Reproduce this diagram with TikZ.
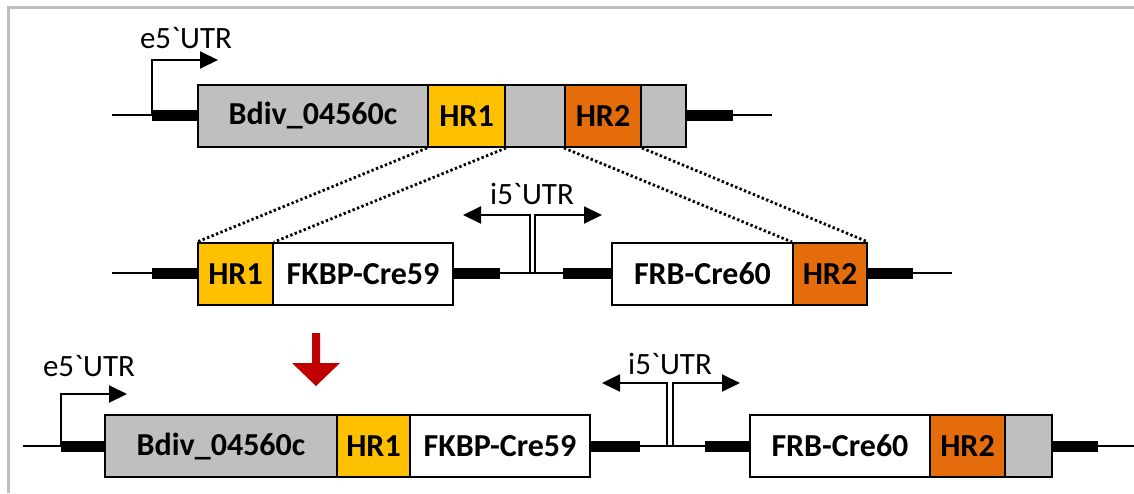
\documentclass[tikz,border=0pt]{standalone}
\usepackage{fontspec}
\setmainfont{Carlito}
\usetikzlibrary{arrows.meta}
\definecolor{gfill}{RGB}{191,191,191}
\definecolor{hryel}{RGB}{255,192,0}
\definecolor{hror}{RGB}{228,108,10}
\definecolor{redarr}{RGB}{192,0,0}
\definecolor{framegray}{RGB}{190,190,190}
\tikzset{
 gene/.style={draw=black, line width=2pt, minimum height=62pt, inner sep=0pt, font=\fontsize{32}{34}\selectfont\bfseries},
 grayseg/.style={gene, fill=gfill},
 yelseg/.style={gene, fill=hryel},
 orseg/.style={gene, fill=hror},
 whseg/.style={gene, fill=white},
 thinln/.style={line width=1.6pt},
 thickbar/.style={line width=11pt},
 promo/.style={line width=2pt, -{Triangle[length=18pt,width=17pt]}},
 lbl/.style={font=\fontsize{31}{33}\selectfont, inner sep=0pt},
 dotln/.style={line width=2.8pt, dash pattern=on 2.4pt off 2.4pt},
}
\begin{document}
\begin{tikzpicture}[x=1pt,y=-1pt]
\useasboundingbox (0,0) rectangle (1134,493);
\fill[white] (0,0) rectangle (1134,493);
\draw[framegray, line width=3pt] (8,493) -- (8,7) -- (1134,7);

% ---------------- top row ----------------
\coordinate (ta0) at (112,115);
\coordinate (ta1) at (152,115);
\coordinate (ta2) at (733,115);
\coordinate (ta3) at (772,115);
\coordinate (tpr) at (218,60);
\draw[thinln] (ta0) -- (ta1);
\draw[thinln] (ta2) -- (ta3);
\node[grayseg, minimum width=230pt] (tb) at (313,116) {Bdiv\_04560c};
\node[yelseg, minimum width=77pt] (th1) at (466.5,116) {HR1};
\node[grayseg, minimum width=60pt] (tg) at (535,116) {};
\node[orseg, minimum width=76pt] (th2) at (603,116) {HR2};
\node[grayseg, minimum width=45pt] (te) at (663.5,116) {};
\draw[thickbar] (ta1) -- (ta1 -| tb.west);
\draw[thickbar] (ta2 -| te.east) -- (ta2);
\draw[promo] (ta1) |- (tpr);
\node[lbl] (tlab) at (186,38) {e5\textasciigrave UTR};

% ---------------- middle row ----------------
\coordinate (ma0) at (112,273);
\coordinate (ma1) at (152,273);
\coordinate (ma2) at (500,273);
\coordinate (ma3) at (563,273);
\coordinate (ma4) at (913,273);
\coordinate (ma5) at (952,273);
\coordinate (mi1) at (530,273);
\coordinate (mi2) at (535,273);
\coordinate (mil) at (463,215);
\coordinate (mir) at (602,215);
\node[yelseg, minimum width=75pt] (mh1) at (235.5,274) {HR1};
\node[whseg, minimum width=180pt] (mf) at (363,274) {FKBP-Cre59};
\node[whseg, minimum width=181pt] (mr) at (702.5,274) {FRB-Cre60};
\node[orseg, minimum width=74pt] (mh2) at (830,274) {HR2};
\draw[thinln] (ma0) -- (ma1);
\draw[thickbar] (ma1) -- (ma1 -| mh1.west);
\draw[thickbar] (ma2 -| mf.east) -- (ma2);
\draw[thinln] (ma2) -- (ma3);
\draw[thickbar] (ma3) -- (ma3 -| mr.west);
\draw[thickbar] (ma4 -| mh2.east) -- (ma4);
\draw[thinln] (ma4) -- (ma5);
\draw[promo] (mi1) |- (mil);
\draw[promo] (mi2) |- (mir);
\node[lbl] (mlab) at (532,194) {i5\textasciigrave UTR};

% dotted crossover lines
\draw[dotln] (th1.south west) -- (mh1.north west);
\draw[dotln] (th1.south east) -- (mh1.north east);
\draw[dotln] (th2.south west) -- (mh2.north west);
\draw[dotln] (th2.south east) -- (mh2.north east);

% red arrow
\fill[redarr] (312,333) -- (320,333) -- (320,363) -- (340,363) -- (316,386) -- (292,363) -- (312,363) -- cycle;

% ---------------- bottom row ----------------
\coordinate (ba0) at (23,446);
\coordinate (ba1) at (61,446);
\coordinate (ba2) at (640,446);
\coordinate (ba3) at (705,446);
\coordinate (ba4) at (1098,446);
\coordinate (ba5) at (1134,446);
\coordinate (bi1) at (667,446);
\coordinate (bi2) at (673,446);
\coordinate (bil) at (602,383);
\coordinate (bir) at (740,383);
\coordinate (bpr) at (127,394);
\node[grayseg, minimum width=232pt] (bb) at (221,446) {Bdiv\_04560c};
\node[yelseg, minimum width=73pt] (bh1) at (373.5,446) {HR1};
\node[whseg, minimum width=180pt] (bf) at (500,446) {FKBP-Cre59};
\node[whseg, minimum width=180pt] (br) at (840,446) {FRB-Cre60};
\node[orseg, minimum width=75pt] (bh2) at (967.5,446) {HR2};
\node[grayseg, minimum width=47pt] (be) at (1028.5,446) {};
\draw[thinln] (ba0) -- (ba1);
\draw[thickbar] (ba1) -- (ba1 -| bb.west);
\draw[thickbar] (ba2 -| bf.east) -- (ba2);
\draw[thinln] (ba2) -- (ba3);
\draw[thickbar] (ba3) -- (ba3 -| br.west);
\draw[thickbar] (ba4 -| be.east) -- (ba4);
\draw[thinln] (ba4) -- (ba5);
\draw[promo] (ba1) |- (bpr);
\node[lbl] (blab) at (89,366) {e5\textasciigrave UTR};
\draw[promo] (bi1) |- (bil);
\draw[promo] (bi2) |- (bir);
\node[lbl] (blab2) at (670,364) {i5\textasciigrave UTR};
\end{tikzpicture}
\end{document}
